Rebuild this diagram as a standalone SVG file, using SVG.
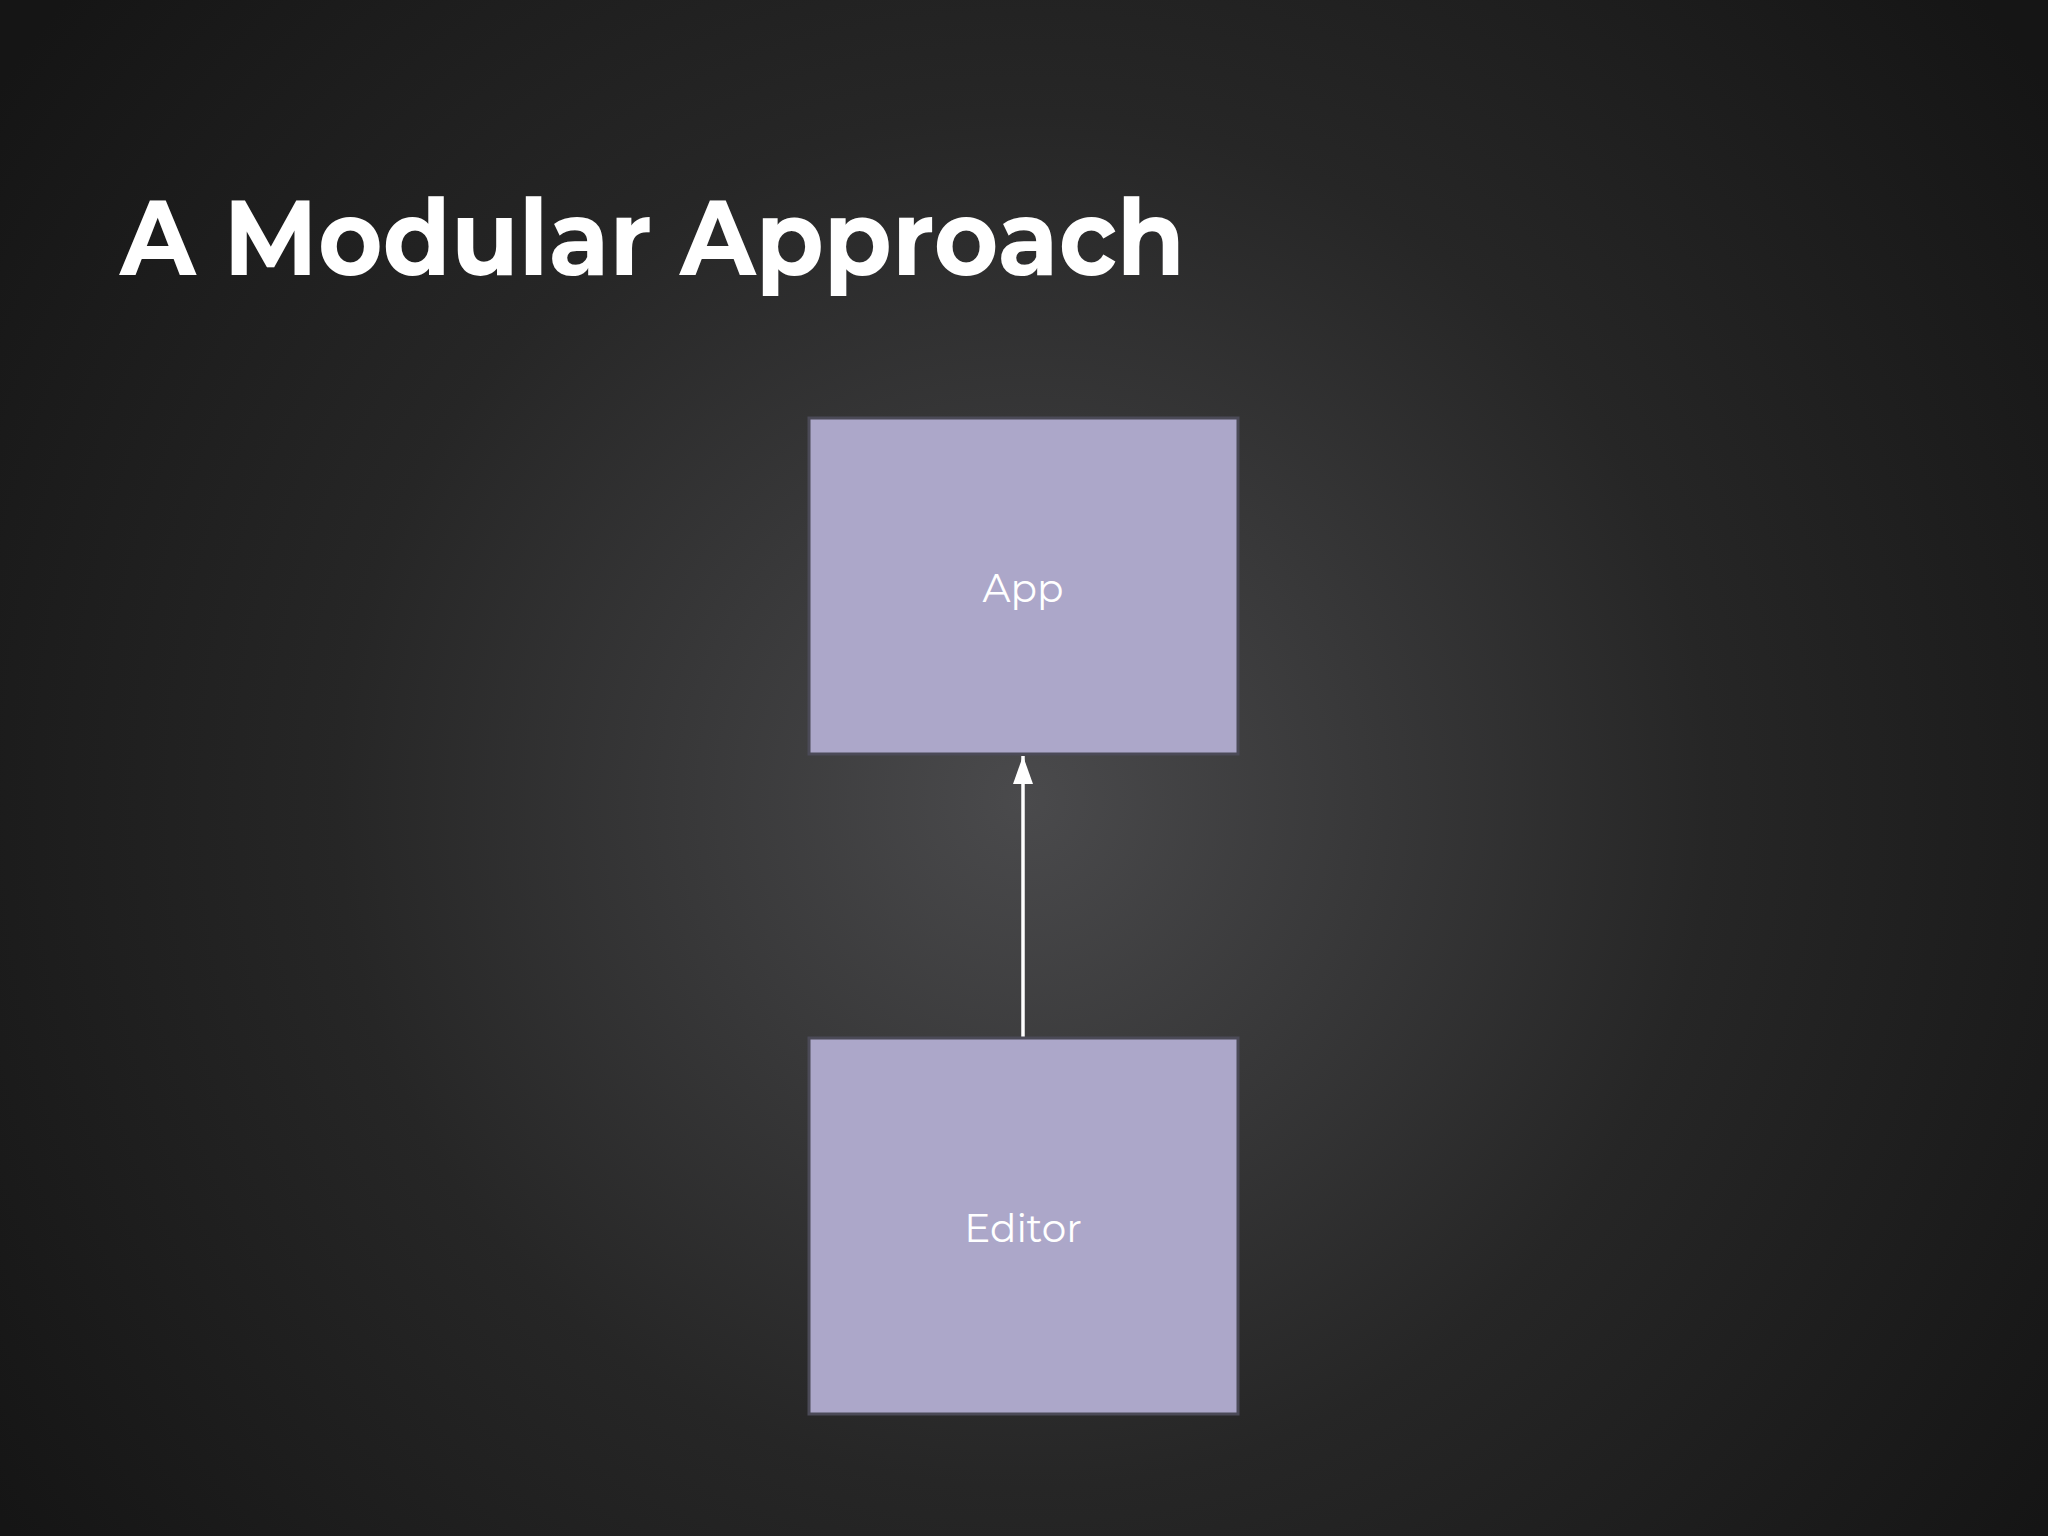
<svg xmlns="http://www.w3.org/2000/svg" width="2048" height="1536" viewBox="0 0 2048 1536">
<defs>
<radialGradient id="bg" cx="1024" cy="800" r="1250" gradientUnits="userSpaceOnUse">
<stop offset="0" stop-color="#4a4a4c"/>
<stop offset="0.55" stop-color="#262626"/>
<stop offset="1" stop-color="#151515"/>
</radialGradient>
<marker id="arr" viewBox="0 0 10 10" refX="10" refY="5" markerWidth="8" markerHeight="8" markerUnits="userSpaceOnUse" orient="auto">
<path d="M0,0 L10,5 L0,10 z" fill="#ffffff"/>
</marker>
<style>
.box{fill:#aca7c9;stroke:#4b4a57;stroke-width:3}
.lbl{font-family:Montserrat,"Noto Sans","Liberation Sans",sans-serif;font-size:39px;fill:#ffffff;text-anchor:middle;dominant-baseline:central}
</style>
</defs>
<rect width="2048" height="1536" fill="url(#bg)"/>
<text x="120" y="275" font-family="Montserrat,'Noto Sans','Liberation Sans',sans-serif" font-weight="bold" font-size="106" fill="#ffffff" textLength="1065" lengthAdjust="spacingAndGlyphs">A Modular Approach</text>
<g id="connectors">
<line x1="1023" y1="1038" x2="1023" y2="756" stroke="#ffffff" stroke-width="3.5"/>
<path d="M1023,756 L1033,784 L1013,784 z" fill="#ffffff"/>
</g>
<g id="app">
<rect class="box" x="809" y="418" width="429" height="336"/>
<text class="lbl" x="1023" y="588">App</text>
</g>
<g id="editor">
<rect class="box" x="809" y="1038" width="429" height="376"/>
<text class="lbl" x="1023" y="1228">Editor</text>
</g>
</svg>
